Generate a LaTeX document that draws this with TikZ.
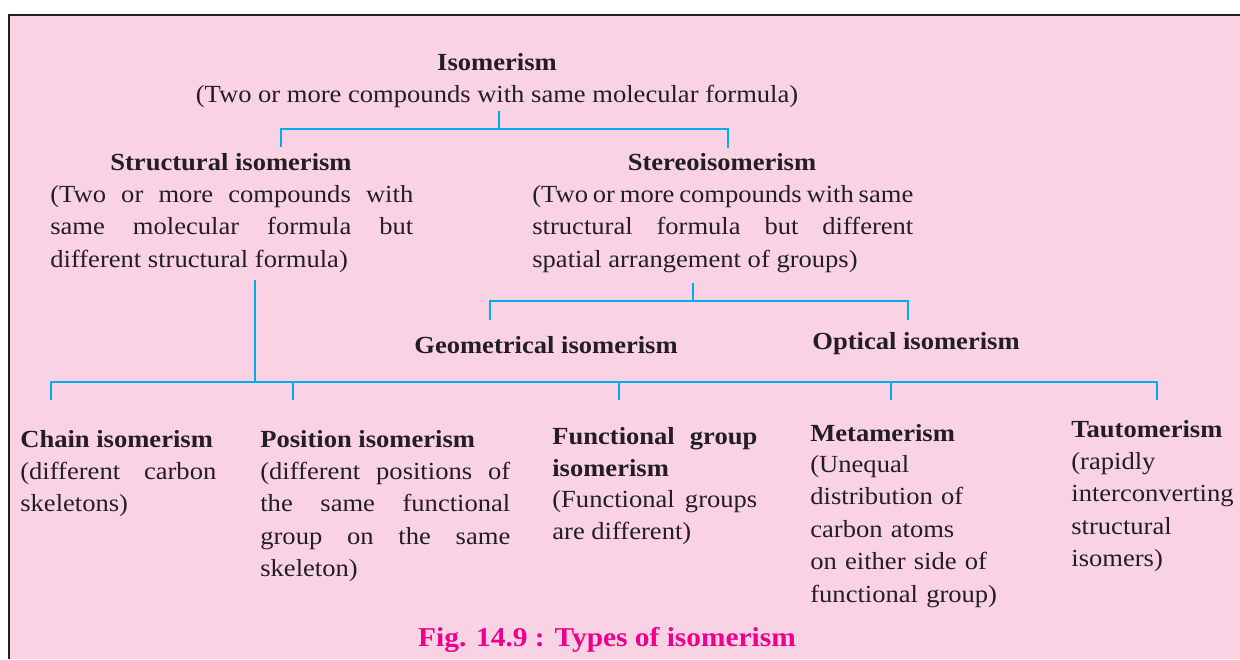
\documentclass[tikz,border=0pt]{standalone}
\usepackage{fontspec}
\setmainfont{Liberation Serif}[FakeStretch=1.08]
\usepackage{xcolor}
\usepackage{tikz}
\usetikzlibrary{positioning,calc}

\definecolor{bgpink}{HTML}{F9D3E4}
\definecolor{linkblue}{HTML}{00AEEF}
\definecolor{capmagenta}{HTML}{EC008C}
\definecolor{ink}{HTML}{231F20}

\begin{document}
\begin{tikzpicture}[
    x=0.02cm, y=-0.02cm,
    head/.style={inner sep=0pt, text=ink, font=\bfseries\fontsize{14}{18.5}\selectfont},
    body/.style={inner sep=0pt, text=ink, font=\fontsize{14}{18.5}\selectfont},
    link/.style={draw=linkblue, line width=1.4pt},
    frame/.style={draw=ink, line width=1.7pt}
]
    \useasboundingbox (0,0) rectangle (1240,659);
    \fill [bgpink] (9,15) rectangle (1240,659);
    \draw [frame] (9,659) -- (9,15) -- (1240,15);

    \node [head, anchor=base] (iso) at (497,70) {Isomerism};
    \node [body, anchor=base] (isodesc) at (497,102) {(Two or more compounds with same molecular formula)};

    \node [head, anchor=base] (struct) at (231,170) {Structural isomerism};
    \node [body, align=justify, text width=7.26cm, anchor=base west] (structdesc) at (50,202)
        {(Two or more compounds with\linebreak same molecular formula but\linebreak different structural formula)};

    \node [head, anchor=base] (stereo) at (722,170) {Stereoisomerism};
    \node [body, align=justify, text width=7.62cm, anchor=base west] (stereodesc) at (532,202)
        {(Two or more compounds with same\linebreak structural formula but different\linebreak spatial arrangement of groups)};

    \node [head, anchor=base west] (geom) at (414,353) {Geometrical isomerism};
    \node [head, anchor=base west] (optic) at (812,349) {Optical isomerism};

    \node [head, anchor=base west] (chain) at (20,447) {Chain isomerism};
    \node [body, align=justify, text width=3.92cm, anchor=base west] (chaindesc) at (20,479)
        {(different carbon\linebreak skeletons)};

    \node [head, anchor=base west] (posn) at (260,447) {Position isomerism};
    \node [body, align=justify, text width=5cm, anchor=base west] (posndesc) at (260,479)
        {(different positions of\linebreak the same functional\linebreak group on the same\linebreak skeleton)};

    \node [head, align=justify, text width=4.1cm, anchor=base west] (func) at (552,444)
        {Functional group\linebreak isomerism};
    \node [body, align=justify, text width=4.1cm, anchor=base west] (funcdesc) at (552,507)
        {(Functional groups\linebreak are different)};

    \node [head, anchor=base west] (meta) at (810,441) {Metamerism};
    \node [body, align=left, text width=3.8cm, anchor=base west] (metadesc) at (810,472)
        {(Unequal\\distribution of\\carbon atoms\\on either side of\\functional group)};

    \node [head, anchor=base west] (tauto) at (1071,437) {Tautomerism};
    \node [body, align=left, text width=3.4cm, anchor=base west] (tautodesc) at (1071,469)
        {(rapidly\\interconverting\\structural\\isomers)};

    \node [head, text=capmagenta, font=\bfseries\fontsize{15.5}{18}\selectfont, anchor=base] (caption) at (607,646)
        {Fig. 14.9 : Types of isomerism};

    \coordinate (tj) at (499,129);
    \coordinate (s1) at (281,147);
    \coordinate (s2) at (728,148);
    \draw [link] ([yshift=-2pt]tj |- isodesc.south) -- (tj);
    \draw [link] (s1) |- (tj) -| (s2);

    \coordinate (sj) at (693,301);
    \coordinate (g1) at (490,320);
    \coordinate (g2) at (908,320);
    \draw [link] ([yshift=-6pt]sj |- stereodesc.south) -- (sj);
    \draw [link] (g1) |- (sj) -| (g2);

    \coordinate (bj) at (255,382);
    \coordinate (b1) at (51,400);
    \coordinate (b2) at (293,400);
    \coordinate (b3) at (619,400);
    \coordinate (b4) at (891,400);
    \coordinate (b5) at (1157,400);
    \draw [link] ([yshift=-4pt]bj |- structdesc.south) -- (bj);
    \draw [link] (b1) |- (bj) -| (b5);
    \foreach \b in {b2,b3,b4}
        \draw [link] (\b) -- (\b |- bj);
\end{tikzpicture}
\end{document}
